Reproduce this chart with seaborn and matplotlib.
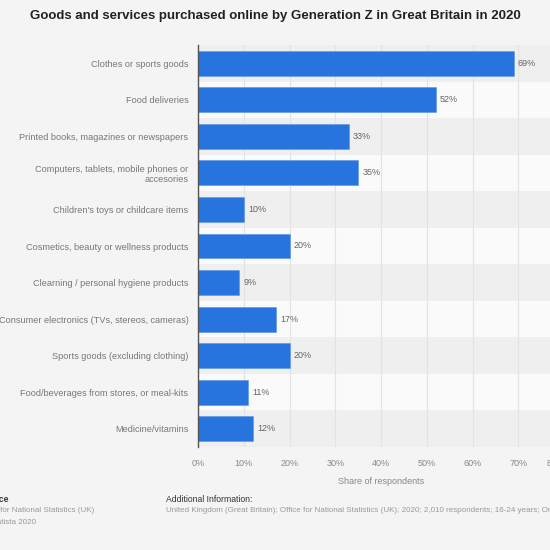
import matplotlib
matplotlib.use("Agg")
import matplotlib.pyplot as plt
import matplotlib.transforms as mtransforms
import seaborn as sns
import pandas as pd

# data
categories = [
    "Clothes or sports goods",
    "Food deliveries",
    "Printed books, magazines or newspapers",
    "Computers, tablets, mobile phones or\naccesories",
    "Children's toys or childcare items",
    "Cosmetics, beauty or wellness products",
    "Clearning / personal hygiene products",
    "Consumer electronics (TVs, stereos, cameras)",
    "Sports goods (excluding clothing)",
    "Food/beverages from stores, or meal-kits",
    "Medicine/vitamins",
]
shares = [69, 52, 33, 35, 10, 20, 9, 17, 20, 11, 12]
x_ticks = [0, 10, 20, 30, 40, 50, 60, 70, 80]

df = pd.DataFrame({"category": categories, "share": shares})

sns.set_style("white")
plt.rcParams["font.family"] = ["Liberation Sans", "DejaVu Sans"]

BG = "#f4f4f4"
BLUE = "#2874de"

fig = plt.figure(figsize=(5.5, 5.5), dpi=100)
fig.patch.set_facecolor(BG)

# axes runs past the right edge like the cropped screenshot
ax = fig.add_axes([198 / 550, 1 - 447 / 550, 366 / 550, 402 / 550])
ax.set_facecolor(BG)

# alternating row bands
for i in range(len(categories)):
    ax.axhspan(i - 0.5, i + 0.5, color="#efefef" if i % 2 == 0 else "#fafafa", zorder=0, lw=0)

for t in x_ticks:
    ax.axvline(t, color="#e3e3e3", lw=0.8, zorder=0.5)

sns.barplot(data=df, x="share", y="category", orient="h", color=BLUE, saturation=1,
            width=0.68, ax=ax, zorder=2, edgecolor="#5a95e6", linewidth=0.4)

ax.bar_label(ax.containers[0], labels=[f"{v}%" for v in shares],
             padding=3, fontsize=6.5, color="#666666")

ax.set_xlim(0, 80)
ax.set_ylim(len(categories) - 0.5, -0.5)
ax.set_xticks(x_ticks)
ax.set_xticklabels([f"{t}%" for t in x_ticks])
ax.tick_params(axis="x", length=0, pad=9, labelsize=6.5, labelcolor="#888888")
ax.tick_params(axis="y", length=0, pad=7, labelsize=6.6, labelcolor="#777777")
for lab in ax.get_yticklabels():
    lab.set_multialignment("right")
# last tick label is pushed left, as in the original
last = ax.get_xticklabels()[-1]
last.set_transform(last.get_transform() + mtransforms.ScaledTranslation(-8 / 100, 0, fig.dpi_scale_trans))
ax.set_xlabel("Share of respondents", fontsize=6.5, color="#888888", labelpad=6)
ax.set_ylabel("")

for s in ["top", "right", "bottom"]:
    ax.spines[s].set_visible(False)
ax.spines["left"].set_color("#555555")
ax.spines["left"].set_linewidth(1.0)

fig.text(0.5, 1 - 16 / 550,
         "Goods and services purchased online by Generation Z in Great Britain in 2020",
         ha="center", va="center", fontsize=9.5, fontweight="bold", color="#222222")

# footer, partly cut off on the left like the original
fig.text(9 / 550, 1 - 500 / 550, "Source", ha="right", va="center",
         fontsize=6.2, fontweight="bold", color="#333333")
fig.text(94 / 550, 1 - 511 / 550, "Office for National Statistics (UK)", ha="right",
         va="center", fontsize=5.8, color="#999999")
fig.text(36 / 550, 1 - 522 / 550, "© Statista 2020", ha="right", va="center",
         fontsize=5.8, color="#999999")
fig.text(166 / 550, 1 - 500 / 550, "Additional Information:", ha="left", va="center",
         fontsize=6.2, color="#333333")
fig.text(166 / 550, 1 - 511 / 550,
         "United Kingdom (Great Britain); Office for National Statistics (UK); 2020; "
         "2,010 respondents; 16-24 years; Online survey",
         ha="left", va="center", fontsize=5.8, color="#999999")

fig.savefig("out.png", dpi=100, facecolor=BG)
